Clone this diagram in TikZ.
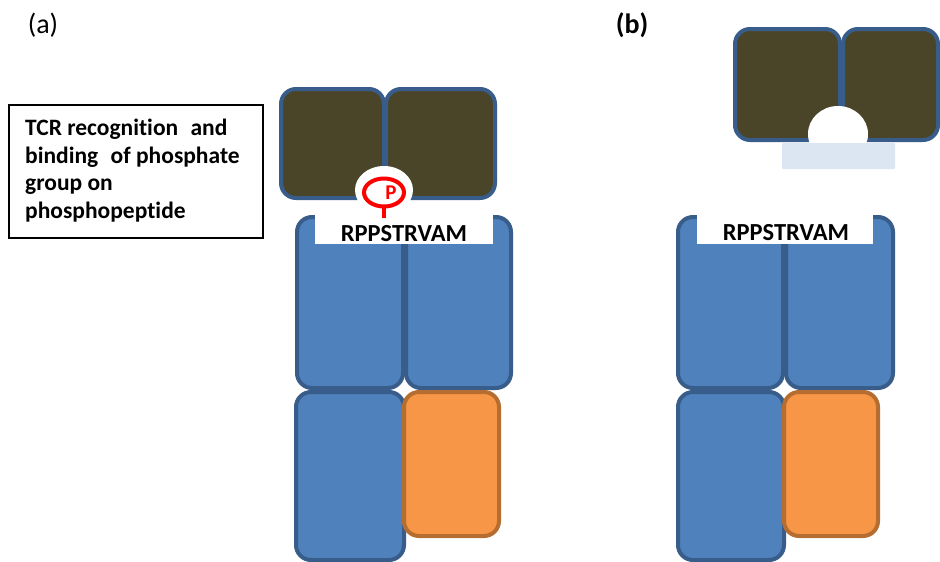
\documentclass[tikz,border=0pt]{standalone}
\usepackage{fontspec}
\setmainfont{Carlito}[Ligatures={NoCommon}]
\definecolor{mhcfill}{HTML}{4F81BD}
\definecolor{mhcline}{HTML}{385D8A}
\definecolor{orfill}{HTML}{F79646}
\definecolor{orline}{HTML}{B66D31}
\definecolor{tcrfill}{HTML}{4A4529}
\definecolor{lightbar}{HTML}{DCE6F2}
\definecolor{pred}{HTML}{FF0000}
\begin{document}
\begin{tikzpicture}[x=1pt,y=-1pt,
  mhc/.style={fill=mhcfill,draw=mhcline,line width=4pt,rounded corners=15pt},
  beta/.style={fill=orfill,draw=orline,line width=4pt,rounded corners=15pt},
  tcr/.style={fill=tcrfill,draw=mhcline,line width=4pt,rounded corners=15pt},
  pep/.style={fill=white,draw=none},
  peptxt/.style={font=\fontsize{24.5}{28}\selectfont\bfseries,inner sep=0pt,anchor=base},
  boxtxt/.style={font=\fontsize{23.5}{28}\selectfont\bfseries,inner sep=0pt,anchor=base west},
  paneltxt/.style={font=\fontsize{28}{32}\selectfont,inner sep=0pt}]
\useasboundingbox[fill=white] (0,0) rectangle (940,562);

% panel labels
\node[paneltxt] (la) at (43,25) {(a)};
\node[paneltxt,font=\fontsize{28}{32}\selectfont\bfseries] (lb) at (632,25) {(b)};

% text box
\draw[line width=1.5pt] (9,105) rectangle (263,238);
\node[boxtxt] (t1) at (25,135) {TCR recognition\hspace{0.3em} and};
\node[boxtxt] (t2) at (25,163) {binding\hspace{0.3em} of phosphate};
\node[boxtxt] (t3) at (25,190.5) {group on};
\node[boxtxt] (t4) at (25,218) {phosphopeptide};

% ===== panel (a) =====
\path[mhc] (297,217) rectangle (403,388);
\path[mhc] (406,217) rectangle (511,388);
\path[mhc] (296,392) rectangle (404,560);
\path[beta] (404,392) rectangle (499,536);
\fill[pep] (315,215) rectangle (493,244);
\node[peptxt] (pa) at (404,241.5) {RPPSTRVAM};
\path[tcr] (281,89) rectangle (384,198);
\path[tcr] (386,89) rectangle (495,198);
\fill[white] (384,190) ellipse [x radius=29, y radius=24];
\draw[pred,line width=4pt] (384,192.5) ellipse [x radius=20, y radius=14];
\draw[pred,line width=4pt] (384,206.5) -- (384,218);
\node[font=\fontsize{21}{24}\selectfont\bfseries,text=pred,inner sep=0pt] (P) at (391,192.5) {P};

% ===== panel (b) =====
\path[mhc] (678,217) rectangle (783,388);
\path[mhc] (786,217) rectangle (893,388);
\path[mhc] (678,392) rectangle (784,560);
\path[beta] (784,392) rectangle (878,536);
\fill[pep] (697,215) rectangle (873,244);
\node[peptxt] (pb) at (786,240.5) {RPPSTRVAM};
\path[tcr] (735,29) rectangle (840,140);
\path[tcr] (843,29) rectangle (938,140);
\fill[white] (838,134) ellipse [x radius=30, y radius=28];
\fill[lightbar,rounded corners=1pt] (782,143) rectangle (895,169);
\end{tikzpicture}
\end{document}
